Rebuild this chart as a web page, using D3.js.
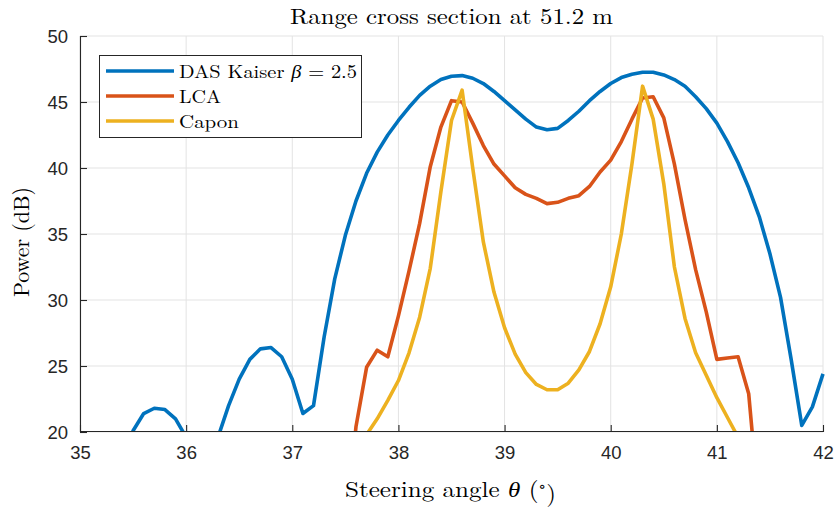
<!DOCTYPE html>
<html><head><meta charset="utf-8">
<script src="https://cdn.jsdelivr.net/npm/d3@7"></script>
<style>
html,body{margin:0;padding:0;background:#fff;}
svg{display:block;}
</style></head>
<body>
<svg id="chart" width="837" height="507"></svg>
<script>
// Steering angles (degrees), sampled every 0.1
const angles = d3.range(0, 71).map(i => +(35 + i * 0.1).toFixed(1));

// Values below 20 dB lie outside the visible axis and are clipped (estimates)
const dasKaiser = [
  15.0, 17.0, 18.0, 17.0, 16.5, 20.1, 21.4, 21.8, 21.7, 21.0,
  19.6, 15.0, 14.0, 19.6, 22.0, 24.0, 25.5, 26.3, 26.4, 25.7,
  24.0, 21.4, 22.0, 27.2, 31.6, 34.9, 37.5, 39.6, 41.2, 42.5,
  43.6, 44.6, 45.5, 46.2, 46.7, 46.95, 47.0, 46.8, 46.4, 45.8,
  45.1, 44.4, 43.7, 43.1, 42.9, 43.0, 43.6, 44.3, 45.1, 45.8,
  46.4, 46.85, 47.1, 47.25, 47.25, 47.05, 46.7, 46.2, 45.4, 44.5,
  43.4, 42.0, 40.4, 38.5, 36.3, 33.5, 30.2, 25.5, 20.5, 21.9,
  24.4
];
const lca = [
  10, 10, 10, 10, 10, 10, 10, 10, 10, 10,
  10, 10, 10, 10, 10, 10, 10, 10, 10, 10,
  10, 10, 10, 10, 10, 12.0, 20.4, 24.9, 26.2, 25.7,
  28.8, 32.2, 35.8, 40.1, 43.1, 45.1, 45.0, 43.4, 41.7, 40.3,
  39.4, 38.5, 38.0, 37.7, 37.3, 37.4, 37.7, 37.9, 38.6, 39.7,
  40.6, 42.0, 43.7, 45.3, 45.4, 43.8, 40.3, 36.1, 32.3, 29.1,
  25.5, 25.6, 25.7, 22.9, 14.0, 10, 10, 10, 10, 10,
  10
];
const capon = [
  10, 10, 10, 10, 10, 10, 10, 10, 10, 10,
  10, 10, 10, 10, 10, 10, 10, 10, 10, 10,
  10, 10, 10, 10, 10, 10, 17.0, 19.8, 21.0, 22.4,
  23.9, 26.0, 28.7, 32.4, 38.2, 43.6, 45.9, 40.0, 34.4, 30.6,
  27.9, 25.9, 24.5, 23.6, 23.2, 23.2, 23.7, 24.7, 26.1, 28.2,
  31.0, 35.0, 40.3, 46.2, 43.7, 38.8, 32.5, 28.6, 26.0, 24.3,
  22.6, 21.1, 19.6, 15.0, 10, 10, 10, 10, 10, 10,
  10
];

const seriesNames = ["DAS Kaiser", "LCA", "Capon"];
const seriesColors = ["#0072BD", "#D95319", "#EDB120"];
const xTicks = [35, 36, 37, 38, 39, 40, 41, 42];
const yTicks = [20, 25, 30, 35, 40, 45, 50];
const titleText = "Range cross section at 51.2 m";

const svg = d3.select("#chart");
const margin = {left: 80, right: 14, top: 36, bottom: 75};
const W = 837, H = 507;
const x = d3.scaleLinear().domain([35, 42]).range([margin.left, W - margin.right]);
const y = d3.scaleLinear().domain([20, 50]).range([H - margin.bottom, margin.top]);

const axisColor = "#262626";
const gridColor = "#e3e3e3";
const sans = "Helvetica, Arial, 'Liberation Sans', sans-serif";
const serif = "'Latin Modern Roman','CMU Serif','Liberation Serif','DejaVu Serif',serif";

// clip
svg.append("defs").append("clipPath").attr("id", "clip")
  .append("rect").attr("x", x(35)).attr("y", y(50) - 3)
  .attr("width", x(42) - x(35) + 3).attr("height", y(20) - y(50) + 3);

// grid
const grid = svg.append("g");
grid.selectAll("line.gx").data(xTicks).join("line")
  .attr("x1", d => x(d)).attr("x2", d => x(d))
  .attr("y1", y(20)).attr("y2", y(50))
  .attr("stroke", gridColor).attr("stroke-width", 1);
grid.selectAll("line.gy").data(yTicks).join("line")
  .attr("x1", x(35)).attr("x2", x(42))
  .attr("y1", d => y(d)).attr("y2", d => y(d))
  .attr("stroke", gridColor).attr("stroke-width", 1);

// lines
const allSeries = [dasKaiser, lca, capon];
const line = d3.line().x((d, i) => x(angles[i])).y(d => y(d));
const lines = svg.append("g").attr("clip-path", "url(#clip)");
allSeries.forEach((s, k) => {
  lines.append("path").datum(s)
    .attr("d", line)
    .attr("fill", "none")
    .attr("stroke", seriesColors[k])
    .attr("stroke-width", 3.6)
    .attr("stroke-linejoin", "round")
    .attr("stroke-linecap", "butt");
});

// axes
const xAxis = d3.axisBottom(x).tickValues(xTicks).tickSize(-7).tickPadding(14).tickFormat(d3.format("d"));
const yAxis = d3.axisLeft(y).tickValues(yTicks).tickSize(-7).tickPadding(12).tickFormat(d3.format("d"));
const gx = svg.append("g").attr("transform", `translate(0,${y(20)})`).call(xAxis);
const gy = svg.append("g").attr("transform", `translate(${x(35)},0)`).call(yAxis);
[gx, gy].forEach(g => {
  g.select(".domain").attr("stroke", axisColor).attr("stroke-width", 1.1);
  g.selectAll(".tick line").attr("stroke", axisColor).attr("stroke-width", 1.1);
  g.selectAll(".tick text").attr("fill", axisColor).style("font-family", sans).style("font-size", "18.5px");
});
gx.select(".domain").attr("d", `M${x(35)},-0.5H${x(42)}`);
gy.select(".domain").attr("d", `M0.5,${y(20)}V${y(50)}`);
gy.selectAll(".tick text").attr("dy", "0.36em");

// title
svg.append("text").attr("x", 451.5).attr("y", 24)
  .attr("text-anchor", "middle").style("font-family", serif).style("font-size", "22px")
  .attr("textLength", 323).attr("lengthAdjust", "spacingAndGlyphs")
  .attr("fill", "#000").text(titleText);

// x label
const xl = svg.append("text").attr("x", 450.5).attr("y", 497)
  .attr("text-anchor", "middle").style("font-family", serif).style("font-size", "22px")
  .attr("textLength", 211).attr("lengthAdjust", "spacingAndGlyphs").attr("fill", "#000");
xl.append("tspan").text("Steering angle ");
xl.append("tspan").style("font-style", "italic").text("θ");
xl.append("tspan").text(" (");
xl.append("tspan").attr("dy", "-0.45em").style("font-size", "14px").text("∘");
xl.append("tspan").attr("dy", "0.45em").text(")");

// y label
svg.append("text").attr("transform", `translate(29,${(y(20) + y(50)) / 2 + 8}) rotate(-90)`)
  .attr("text-anchor", "middle").style("font-family", serif).style("font-size", "22px")
  .attr("textLength", 110).attr("lengthAdjust", "spacingAndGlyphs")
  .attr("fill", "#000").text("Power (dB)");

// legend
const lg = svg.append("g");
lg.append("rect").attr("x", 99.5).attr("y", 55.5).attr("width", 262).attr("height", 82)
  .attr("fill", "#fff").attr("stroke", axisColor).attr("stroke-width", 1);
const legendY = [71, 96, 121];
const legendLen = [178, 42, 60];
seriesNames.forEach((n, k) => {
  lg.append("line").attr("x1", 106).attr("x2", 174).attr("y1", legendY[k]).attr("y2", legendY[k])
    .attr("stroke", seriesColors[k]).attr("stroke-width", 3.6);
  const t = lg.append("text").attr("x", 179).attr("y", legendY[k] + 6.5)
    .style("font-family", serif).style("font-size", "18.5px").attr("fill", "#000")
    .attr("textLength", legendLen[k]).attr("lengthAdjust", "spacingAndGlyphs");
  t.append("tspan").text(n);
  if (k === 0) {
    t.append("tspan").text(" ");
    t.append("tspan").style("font-style", "italic").text("β");
    t.append("tspan").text(" = 2.5");
  }
});
</script>
</body></html>
